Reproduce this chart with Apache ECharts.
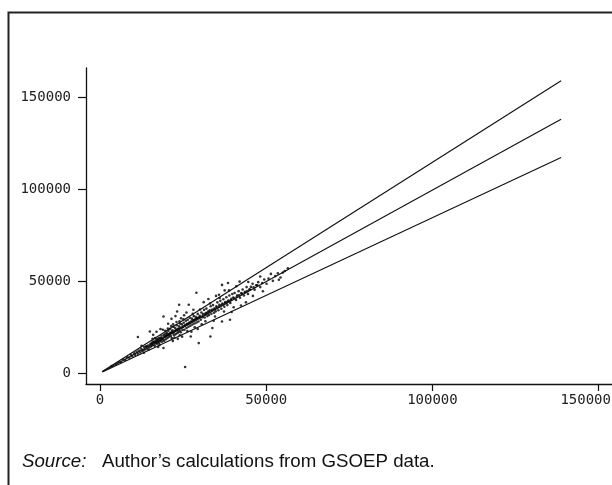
<!DOCTYPE html>
<html>
<head>
<meta charset="utf-8">
<script src="https://cdn.jsdelivr.net/npm/echarts@6/dist/echarts.min.js"></script>
<style>html,body{margin:0;padding:0;background:#fff}#c{width:612px;height:485px}</style>
</head>
<body>
<div id="c"></div>
<script>
// Tick labels
const xTicks = [0, 50000, 100000, 150000];
const yTicks = [0, 50000, 100000, 150000];

// Three reference lines: start and end points [x, y]
const lineUpper = [[700, 800], [138700, 159250]];
const lineMiddle = [[700, 700], [138700, 138240]];
const lineLower = [[700, 590], [138700, 117340]];

// Scatter points [x, y]
const points = [
[3500,3800],[4800,4600],[5600,5900],[6300,6000],[7000,7400],[7600,7100],[8200,8600],[8800,8300],[9300,9900],[9700,9100],
[10300,10800],[10600,9800],[11000,11600],[11400,10500],[11700,12300],[12100,11200],[12400,13200],[12700,12000],[13000,12400],[13300,14200],[13600,12800],[13900,14600],[14200,13300],[14500,15000],[14800,13900],[11400,19600],[15000,22600],[12500,14800],[13200,11000],
[15100,15600],[15300,14400],[15500,16300],[15700,15000],[15900,17100],[16100,15400],[16300,16900],[16500,14900],[16700,17600],[16900,16200],[17100,18300],[17200,16000],[17400,17000],[17600,18900],[17800,16500],[18000,19200],[18100,17400],[18300,18000],[18500,20300],[18600,17000],[18800,19000],[19000,18200],[19200,20800],[19300,17500],[19500,19600],[19700,21400],[19800,18400],[19100,30800],[17000,22500],[18200,24000],[16000,20800],[19100,13600],[17500,14200],[18900,23600],
[20000,20400],[20100,22000],[20300,19100],[20500,21100],[20600,23000],[20800,19800],[21000,21700],[21100,24100],[21300,20200],[21500,22400],[21600,19000],[21800,23300],[22000,21500],[22100,25200],[22300,20600],[22500,22900],[22600,24500],[22800,21200],[23000,23600],[23100,26000],[23300,21800],[23500,24100],[23600,22300],[23800,25400],[24000,23000],[24100,27000],[24300,22200],[24500,24600],[24600,26500],[24800,23400],[23800,37200],[23200,33500],[21500,29500],[22700,31000],[24400,29800],[20500,26800],[21900,17500],[23400,18600],[24700,19800],[22000,26500],[23900,28200],
[25000,25300],[25200,27400],[25400,23600],[25600,26000],[25800,28500],[26000,24500],[26200,26800],[26400,29000],[26600,25200],[26800,27300],[27000,30100],[27200,25800],[27400,28000],[27600,29600],[27800,26400],[28000,28800],[28200,31000],[28400,27000],[28600,29200],[28800,30600],[29000,27500],[29200,30000],[29400,32200],[29600,28100],[29800,30300],[25600,3300],[26700,37200],[29000,43700],[29700,16300],[27300,19900],[26000,33000],[28100,34500],[27500,22500],[25300,31500],[29400,24000],
[30000,31200],[30300,29000],[30500,33000],[30800,30400],[31000,32100],[31300,34400],[31500,30200],[31800,32600],[32000,35100],[32300,31000],[32500,33500],[32800,31600],[33000,34200],[33300,36400],[33500,32300],[33800,34600],[34000,37000],[34300,32800],[34500,35200],[34800,33600],[33200,19900],[33800,24500],[31200,38600],[32600,40300],[34200,28500],[30600,26500],[34900,42000],
[35000,36300],[35300,38500],[35600,34200],[35900,37100],[36200,39300],[36500,35000],[36800,37900],[37100,40200],[37400,36100],[37700,38600],[38000,41300],[38300,37000],[38600,39500],[38900,42200],[39200,38100],[39500,40400],[39800,43000],[36700,48000],[38500,49000],[39100,29000],[36700,28100],[37500,45000],[39600,33200],[35800,42600],
[40100,41100],[40500,43600],[40900,39800],[41300,42400],[41700,44600],[42100,41000],[42500,43500],[42900,45500],[43300,42200],[43700,44300],[44100,46800],[44500,43100],[44900,45400],[42000,49800],[41000,47300],[43900,38500],[42400,36800],[44600,49600],
[45400,46900],[45900,48600],[46500,45400],[47000,47800],[47600,49500],[48200,46800],[48200,52600],[48800,49000],[49400,50900],[50100,48600],[50700,51400],[51400,54000],[52000,50200],[52700,52800],[53500,54300],[53800,50800],[54300,52000],[55000,54700],[55600,55600],[56500,57100],[46000,42000],[49000,44500],
[14000,14300],[15600,15800],[16200,16500],[16800,16800],[17300,17700],[17700,17900],[18400,18900],[18700,18500],[19400,19900],[19900,20100],[20200,20700],[20700,20900],[21200,21500],[21700,22100],[22200,22400],[22700,23000],[23200,23500],[23700,23900],[24200,24500],[24900,25100],[25500,25700],[26100,26500],[26500,26700],[27100,27500],[27700,27900],[28300,28600],[28900,29200],[29500,29800],[30200,30500],[30900,31200],[31600,31800],[32200,32600],[32900,33200],[33600,34000],[34400,34700],[35200,35600],[35800,36000],[36400,36900],[37000,37300],[37600,38100],[38200,38600],[38800,39200],[39400,39800],[40300,40700],[41100,41400],[41900,42300],[42700,43100],[43500,43800],[44300,44700],[45100,45500],[46200,46700],[47300,47800],
[20400,24200],[21400,25600],[22400,19200],[23000,27800],[24000,20600],[25100,29300],[26300,22800],[27900,32300],[28500,24900],[30100,34600],[31700,28200],[33100,37900],[34600,30800],[36000,40900],[37300,33500],[38800,45000],[40200,35800],[16600,19000],[17900,15300],[19600,23000],[15800,18600],[14600,12700]
];

const chart = echarts.init(document.getElementById('c'), null, {renderer: 'canvas'});
const lineStyleCommon = {color: '#111', width: 1.15};
const axisFont = {fontFamily: 'DejaVu Sans Mono', fontSize: 14, color: '#222'};

chart.setOption({
  animation: false,
  backgroundColor: '#fff',
  grid: {left: 86, right: 0, top: 68, bottom: 101, containLabel: false, outerBoundsMode: 'none'},
  xAxis: {
    type: 'value', min: -4211, max: 154010,
    splitLine: {show: false},
    axisLine: {show: true, onZero: false, lineStyle: {color: '#111', width: 1.3}},
    axisTick: {show: true, length: 7, customValues: xTicks, lineStyle: {color: '#111', width: 1.2}},
    axisLabel: Object.assign({
      show: true, margin: 9, customValues: xTicks, hideOverlap: false,
      formatter: v => (v === xTicks[xTicks.length - 1] ? '{e|' + v + '}' : String(v)),
      rich: {e: {fontFamily: 'DejaVu Sans Mono', fontSize: 14, color: '#222', padding: [0, 26, 0, 0]}}
    }, axisFont)
  },
  yAxis: {
    type: 'value', min: -5986, max: 166150,
    splitLine: {show: false},
    axisLine: {show: true, onZero: false, lineStyle: {color: '#111', width: 1.3}},
    axisTick: {show: true, length: 8, customValues: yTicks, lineStyle: {color: '#111', width: 1.2}},
    axisLabel: Object.assign({show: true, margin: 15, customValues: yTicks, formatter: v => String(v)}, axisFont)
  },
  series: [
    {type: 'scatter', data: points, symbol: 'circle', symbolSize: 2.6, itemStyle: {color: '#000'}, silent: true},
    {type: 'line', data: lineUpper, symbol: 'none', lineStyle: lineStyleCommon, silent: true},
    {type: 'line', data: lineMiddle, symbol: 'none', lineStyle: lineStyleCommon, silent: true},
    {type: 'line', data: lineLower, symbol: 'none', lineStyle: lineStyleCommon, silent: true}
  ],
  graphic: [
    {type: 'rect', shape: {x: 8.5, y: 12.5, width: 700, height: 600}, style: {fill: 'none', stroke: '#222', lineWidth: 2}, silent: true},
    {type: 'text', left: 22, top: 452, silent: true,
     style: {
       text: '{i|Source:}   Author’s calculations from GSOEP data.',
       fontFamily: 'Liberation Sans', fontSize: 18.7, fill: '#111',
       rich: {i: {fontStyle: 'italic', fontFamily: 'Liberation Sans', fontSize: 18.7, fill: '#111'}}
     }}
  ]
});
</script>
</body>
</html>
